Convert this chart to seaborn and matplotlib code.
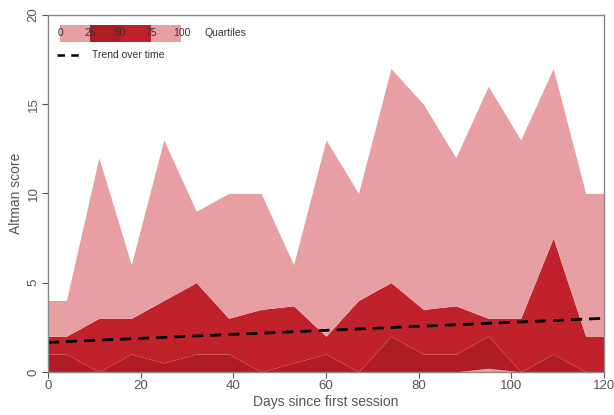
import numpy as np
import pandas as pd
import matplotlib
matplotlib.use("Agg")
import matplotlib.pyplot as plt
import seaborn as sns
from matplotlib.patches import Rectangle
from matplotlib.lines import Line2D

# Days since first session and Altman score quartiles
days = [0, 4, 11, 18, 25, 32, 39, 46, 53, 60, 67, 74, 81, 88, 95, 102, 109, 116, 120]
q0 = [0] * 19
q25 = [0, 0, 0, 0, 0, 0, 0, 0, 0, 0, 0, 0, 0, 0, 0.2, 0, 0, 0, 0]
q50 = [1, 1, 0, 1, 0.5, 1, 1, 0, 0.5, 1, 0, 2, 1, 1, 2, 0, 1, 0, 0]
q75 = [2, 2, 3, 3, 4, 5, 3, 3.5, 3.7, 2, 4, 5, 3.5, 3.7, 3, 3, 7.5, 2, 2]
q100 = [4, 4, 12, 6, 13, 9, 10, 10, 6, 13, 10, 17, 15, 12, 16, 13, 17, 10, 10]

trend_days = [0, 120]
trend_score = [1.65, 3.0]

quartile_labels = ["0", "25", "50", "75", "100"]

light = "#e79fa4"
dark = "#ae1d23"
mid = "#c1212a"
grey = "#555555"

sns.set_style("white")
plt.rcParams["font.family"] = ["Liberation Sans", "DejaVu Sans"]

df = pd.DataFrame({"day": days, "q0": q0, "q25": q25, "q50": q50, "q75": q75, "q100": q100})

fig = plt.figure(figsize=(6.14, 4.15), dpi=100)
ax = fig.add_axes([0.078, 0.104, 0.906, 0.86])

ax.fill_between(df["day"], df["q0"], df["q25"], color=light, lw=0)
ax.fill_between(df["day"], df["q25"], df["q50"], color=dark, lw=0)
ax.fill_between(df["day"], df["q50"], df["q75"], color=mid, lw=0)
ax.fill_between(df["day"], df["q75"], df["q100"], color=light, lw=0)

trend = pd.DataFrame({"day": trend_days, "score": trend_score})
sns.lineplot(data=trend, x="day", y="score", ax=ax, color="black",
             linestyle=(0, (4, 2.5)), linewidth=2.0)

ax.set_xlim(0, 120)
ax.set_ylim(0, 20)
ax.set_xticks([0, 20, 40, 60, 80, 100, 120])
ax.set_yticks([0, 5, 10, 15, 20])
ax.tick_params(axis="both", colors=grey, labelsize=9.5, length=4, width=0.8,
               direction="out", bottom=True, left=True, pad=2)
plt.setp(ax.get_yticklabels(), rotation=90, va="center")
ax.set_xlabel("Days since first session", color=grey, fontsize=10, labelpad=2)
ax.set_ylabel("Altman score", color=grey, fontsize=10, labelpad=3)
for s in ax.spines.values():
    s.set_color("#888888")
    s.set_linewidth(1.0)

# legend: quartile colour bar + trend line
seg_colors = [light, dark, mid, light]
x0, w, y0, h = 0.022, 0.0545, 0.925, 0.047
for i, c in enumerate(seg_colors):
    ax.add_patch(Rectangle((x0 + i * w, y0), w, h, transform=ax.transAxes,
                           facecolor=c, edgecolor="none", zorder=5))
for i, lab in enumerate(quartile_labels):
    ax.text(x0 + i * w, y0 + h / 2, lab, transform=ax.transAxes, ha="center",
            va="center", fontsize=7.5, color="#333333", zorder=6)
ax.text(0.282, y0 + h / 2, "Quartiles", transform=ax.transAxes, ha="left",
        va="center", fontsize=7.5, color="#333333")
ax.add_line(Line2D([0.016, 0.056], [0.889, 0.889], transform=ax.transAxes,
                   color="black", linestyle=(0, (3, 2.5)), linewidth=1.8))
ax.text(0.079, 0.889, "Trend over time", transform=ax.transAxes, ha="left",
        va="center", fontsize=7.5, color="#333333")

fig.savefig("out.png", dpi=100)
